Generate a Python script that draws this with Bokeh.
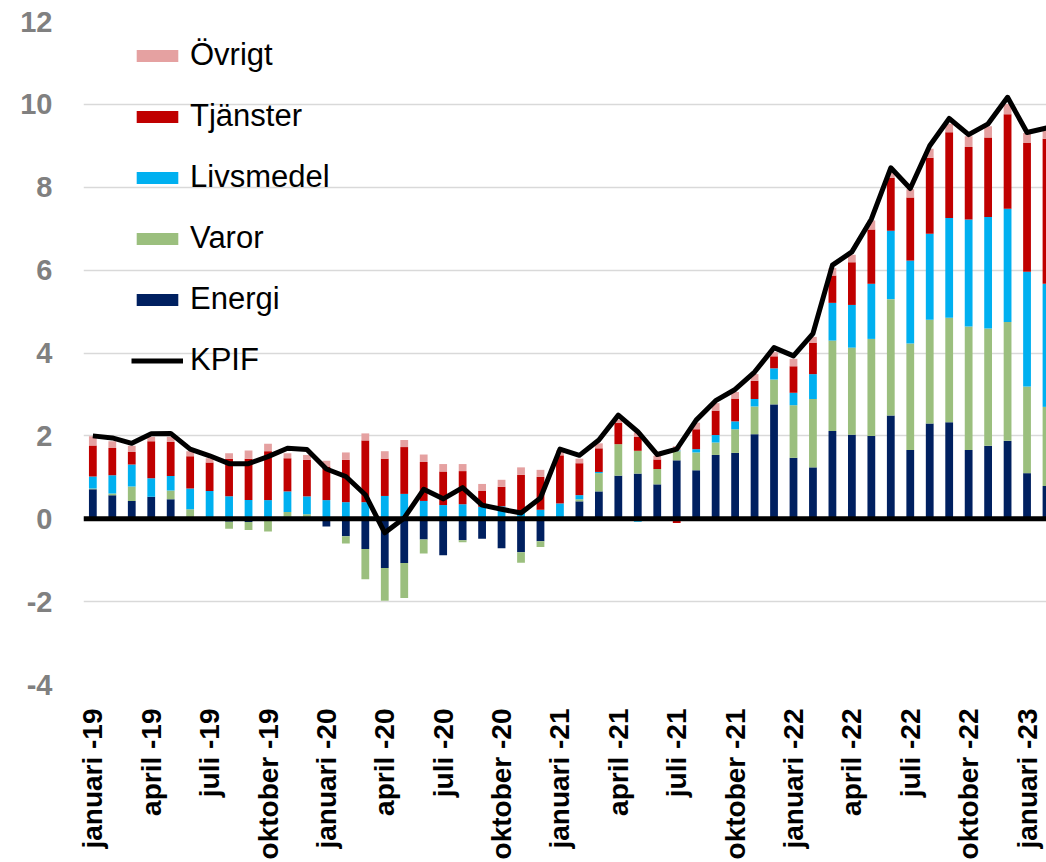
import numpy as np
from bokeh.plotting import figure
from bokeh.models import Range1d, FixedTicker, Span, Legend, LegendItem
from bokeh.embed import file_html
from bokeh.resources import INLINE

# ---- data (percent, yearly change, Jan 2019 - Feb 2023) ----
month_names = ["januari", "februari", "mars", "april", "maj", "juni",
               "juli", "augusti", "september", "oktober", "november", "december"]
years = ["19", "20", "21", "22", "23"]

energi = [0.71, 0.57, 0.43, 0.53, 0.47, 0.00, 0.00, -0.07, -0.08, -0.03, 0.05, 0.05,
          -0.19, -0.42, -0.73, -1.19, -1.07, -0.50, -0.88, -0.52, -0.48, -0.71, -0.81, -0.54,
          0.02, 0.42, 0.66, 1.04, 1.09, 0.83, 1.41, 1.17, 1.54, 1.59, 2.04, 2.76,
          1.47, 1.24, 2.12, 2.03, 2.00, 2.49, 1.66, 2.30, 2.33, 1.66, 1.76, 1.88,
          1.10, 0.79]
varor = [0.02, 0.04, 0.35, 0.00, 0.21, 0.23, 0.02, -0.17, -0.19, -0.28, 0.11, 0.06,
         0.00, -0.18, -0.73, -0.79, -0.84, -0.34, 0.03, -0.05, 0.03, 0.00, -0.25, -0.14,
         0.00, 0.05, 0.44, 0.76, 0.55, 0.37, 0.22, 0.43, 0.30, 0.57, 0.67, 0.60,
         1.27, 1.65, 2.18, 2.10, 2.34, 2.81, 2.57, 2.50, 2.52, 2.98, 2.83, 2.87,
         2.09, 1.91]
livsmedel = [0.29, 0.44, 0.53, 0.45, 0.35, 0.50, 0.65, 0.54, 0.45, 0.45, 0.50, 0.43,
             0.45, 0.40, 0.40, 0.55, 0.60, 0.43, 0.30, 0.35, 0.26, 0.30, 0.15, 0.22,
             0.35, 0.10, 0.03, 0.00, -0.07, 0.00, 0.02, 0.08, 0.18, 0.19, 0.18, 0.27,
             0.30, 0.60, 0.91, 1.03, 1.33, 1.65, 2.00, 2.08, 2.41, 2.58, 2.69, 2.73,
             2.77, 2.97]
tjanster = [0.75, 0.66, 0.30, 0.89, 0.82, 0.78, 0.69, 0.91, 1.00, 1.18, 0.80, 0.88,
            0.81, 1.02, 1.49, 0.90, 1.13, 0.94, 0.81, 0.80, 0.38, 0.47, 0.91, 0.79,
            1.16, 0.77, 0.57, 0.51, 0.34, 0.23, -0.10, 0.48, 0.59, 0.55, 0.44, 0.29,
            0.64, 0.76, 0.66, 1.03, 1.31, 1.28, 1.52, 1.83, 2.07, 1.75, 1.92, 2.28,
            3.11, 3.50]
ovrigt = [0.22, 0.16, 0.15, 0.11, 0.13, 0.12, 0.10, 0.13, 0.20, 0.18, 0.12, 0.12,
          0.14, 0.18, 0.17, 0.18, 0.17, 0.18, 0.18, 0.17, 0.17, 0.17, 0.18, 0.17,
          0.12, 0.11, 0.12, 0.08, 0.10, 0.09, 0.10, 0.16, 0.18, 0.16, 0.16, 0.10,
          0.18, 0.14, 0.18, 0.18, 0.22, 0.14, 0.20, 0.22, 0.20, 0.26, 0.27, 0.25,
          0.24, 0.20]
kpif = [2.00, 1.95, 1.82, 2.05, 2.06, 1.68, 1.52, 1.33, 1.33, 1.50, 1.70, 1.67,
        1.20, 1.02, 0.58, -0.34, 0.02, 0.71, 0.48, 0.75, 0.33, 0.23, 0.14, 0.50,
        1.68, 1.53, 1.90, 2.50, 2.10, 1.55, 1.68, 2.38, 2.85, 3.12, 3.54, 4.13,
        3.93, 4.47, 6.12, 6.44, 7.23, 8.47, 7.97, 9.00, 9.66, 9.27, 9.53, 10.17,
        9.32, 9.43]
y_ticks = [-4, -2, 0, 2, 4, 6, 8, 10, 12]

n = len(kpif)
x = np.arange(n)
labels = [f"{month_names[i % 12]} -{years[i // 12]}" for i in range(n)]

FONT = "Liberation Sans"

p = figure(width=1046, height=862, output_backend="svg", toolbar_location=None,
           x_range=Range1d(-0.48, 49.0), y_range=Range1d(-4, 12),
           min_border_left=83, min_border_top=21, min_border_right=0,
           min_border_bottom=177)
p.outline_line_color = None
p.background_fill_color = "white"

series = [("Energi", energi, "#002060"),
          ("Varor", varor, "#9BBF7E"),
          ("Livsmedel", livsmedel, "#00B0F0"),
          ("Tjänster", tjanster, "#C00000"),
          ("Övrigt", ovrigt, "#E5A1A1")]

pos = np.zeros(n)
neg = np.zeros(n)
rends = {}
for name, vals, color in series:
    v = np.asarray(vals, dtype=float)
    bottom = np.where(v >= 0, pos, neg)
    top = bottom + v
    pos = np.where(v >= 0, top, pos)
    neg = np.where(v < 0, top, neg)
    rends[name] = p.vbar(x=x, bottom=bottom, top=top, width=0.4,
                         fill_color=color, line_color=None)

p.add_layout(Span(location=0, dimension="width", line_color="black", line_width=5))

kline = p.line(x, kpif, line_color="black", line_width=5, line_join="round")

# axes
p.yaxis.ticker = FixedTicker(ticks=y_ticks)
p.yaxis.major_label_overrides = {t: str(t) for t in y_ticks}
p.yaxis.axis_line_color = None
p.yaxis.major_tick_line_color = None
p.yaxis.minor_tick_line_color = None
p.yaxis.major_label_text_font = FONT
p.yaxis.major_label_text_font_style = "bold"
p.yaxis.major_label_text_font_size = "29px"
p.yaxis.major_label_text_color = "#808080"
p.yaxis.major_label_standoff = 25

ticks = list(range(0, n, 3))
p.xaxis.ticker = FixedTicker(ticks=ticks)
p.xaxis.major_label_overrides = {i: labels[i] for i in ticks}
p.xaxis.major_label_orientation = np.pi / 2
p.xaxis.axis_line_color = None
p.xaxis.major_tick_line_color = None
p.xaxis.minor_tick_line_color = None
p.xaxis.major_label_text_font = FONT
p.xaxis.major_label_text_font_style = "bold"
p.xaxis.major_label_text_font_size = "28px"
p.xaxis.major_label_text_color = "black"
p.xaxis.major_label_standoff = 18

p.xgrid.visible = False
p.ygrid.grid_line_color = "#D9D9D9"
p.ygrid.grid_line_width = 1.5

legend = Legend(items=[LegendItem(label="Övrigt", renderers=[rends["Övrigt"]]),
                       LegendItem(label="Tjänster", renderers=[rends["Tjänster"]]),
                       LegendItem(label="Livsmedel", renderers=[rends["Livsmedel"]]),
                       LegendItem(label="Varor", renderers=[rends["Varor"]]),
                       LegendItem(label="Energi", renderers=[rends["Energi"]]),
                       LegendItem(label="KPIF", renderers=[kline])],
                location=(48, 306), glyph_width=52, glyph_height=15,
                label_height=36, spacing=25, padding=0, margin=0,
                label_standoff=7, label_text_font=FONT,
                label_text_font_size="31px", label_text_color="black",
                background_fill_alpha=0, border_line_color=None)
p.add_layout(legend)

open("out.html", "w").write(file_html(p, INLINE))
